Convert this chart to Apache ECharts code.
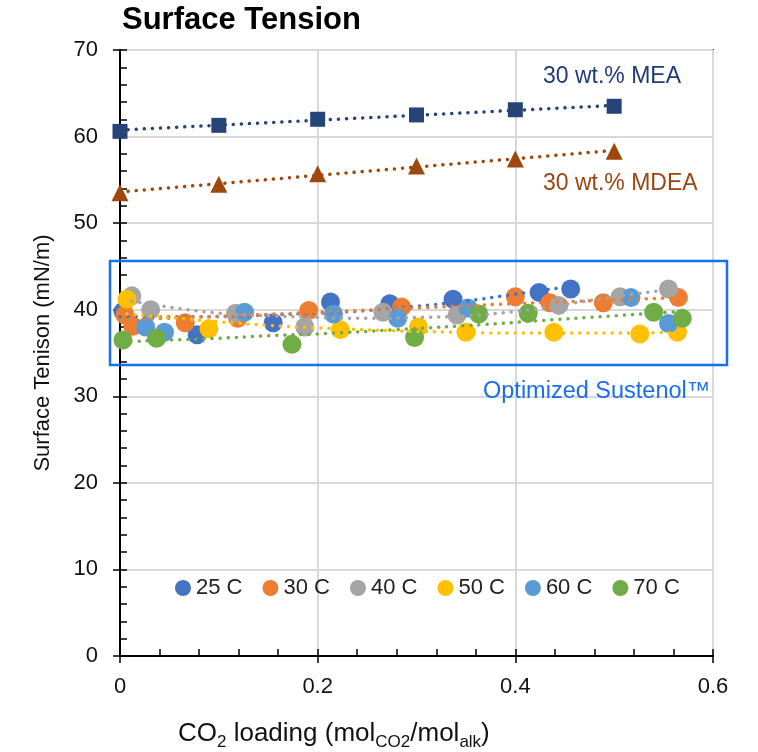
<!DOCTYPE html>
<html>
<head>
<meta charset="utf-8">
<script src="https://cdn.jsdelivr.net/npm/echarts@6/dist/echarts.min.js"></script>
<style>
    html, body { margin: 0; padding: 0; background: #fff; }
    #chart { width: 758px; height: 752px; }
</style>
</head>
<body>
<div id="chart"></div>
<script>
// 温度系列 (x = CO2 loading, y = surface tension)
var t25x = [0.003, 0.078, 0.155, 0.213, 0.273, 0.337, 0.424, 0.456];
var t25y = [39.8, 37.1, 38.5, 40.9, 40.7, 41.2, 42.0, 42.4];
var t30x = [0.005, 0.013, 0.066, 0.119, 0.191, 0.285, 0.400, 0.435, 0.489, 0.565];
var t30y = [39.4, 38.1, 38.5, 39.0, 39.9, 40.3, 41.5, 40.8, 40.8, 41.4];
var t40x = [0.012, 0.031, 0.117, 0.187, 0.266, 0.341, 0.444, 0.506, 0.555];
var t40y = [41.6, 40.0, 39.6, 38.0, 39.7, 39.4, 40.5, 41.5, 42.4];
var t50x = [0.007, 0.090, 0.223, 0.302, 0.350, 0.439, 0.526, 0.564];
var t50y = [41.2, 37.8, 37.7, 38.0, 37.4, 37.4, 37.2, 37.4];
var t60x = [0.026, 0.045, 0.126, 0.216, 0.281, 0.352, 0.517, 0.555];
var t60y = [38.0, 37.4, 39.7, 39.5, 39.0, 40.2, 41.4, 38.4];
var t70x = [0.003, 0.037, 0.174, 0.298, 0.363, 0.413, 0.540, 0.569];
var t70y = [36.5, 36.7, 36.0, 36.8, 39.5, 39.6, 39.7, 39.0];

// 趋势线
var tr25x = [0, 0.1, 0.15, 0.2, 0.25, 0.3, 0.35, 0.4, 0.456];
var tr25y = [39.2, 39.2, 39.4, 39.6, 39.9, 40.4, 41.0, 41.8, 42.7];
var tr30x = [0, 0.2, 0.4, 0.565];
var tr30y = [38.8, 39.7, 40.7, 41.4];
var tr40x = [0.012, 0.05, 0.1, 0.15, 0.2, 0.25, 0.3, 0.35, 0.4, 0.45, 0.5, 0.555];
var tr40y = [41.0, 40.3, 39.6, 39.3, 39.1, 39.0, 39.1, 39.3, 39.8, 40.6, 41.5, 42.3];
var tr50x = [0.007, 0.05, 0.1, 0.15, 0.2, 0.3, 0.4, 0.5, 0.564];
var tr50y = [39.5, 39.1, 38.6, 38.2, 37.9, 37.5, 37.3, 37.3, 37.4];
var tr70x = [0.003, 0.05, 0.1, 0.15, 0.2, 0.28, 0.37, 0.42, 0.5, 0.569];
var tr70y = [36.3, 36.5, 36.7, 37.0, 37.2, 37.7, 38.3, 38.7, 39.3, 39.8];

// MEA / MDEA
var meaX = [0, 0.1, 0.2, 0.3, 0.4, 0.5];
var meaY = [60.6, 61.3, 62.0, 62.5, 63.1, 63.5];
var meaTrendX = [0, 0.5];
var meaTrendY = [60.75, 63.6];
var mdeaX = [0, 0.1, 0.2, 0.3, 0.4, 0.5];
var mdeaY = [53.5, 54.5, 55.7, 56.6, 57.4, 58.3];
var mdeaTrendX = [0, 0.5];
var mdeaTrendY = [53.6, 58.4];

var names = ['25 C', '30 C', '40 C', '50 C', '60 C', '70 C'];
var mycolor = ['#4472C4', '#ED7D31', '#A5A5A5', '#FFC000', '#5B9BD5', '#70AD47'];

var font = 'Liberation Sans, Arial, sans-serif';

function pairs(xs, ys) {
    return xs.map(function (x, i) { return [x, ys[i]]; });
}

function dots(color) {
    return { color: color, width: 3.5, type: [0.1, 8], cap: 'round' };
}

function trend(xs, ys, color, smooth) {
    return {
        type: 'line',
        data: pairs(xs, ys),
        symbol: 'none',
        smooth: smooth,
        silent: true,
        z: 4,
        lineStyle: dots(color)
    };
}

(function () {
    var mychart = echarts.init(document.getElementById('chart'));

    var pts = [[t25x, t25y], [t30x, t30y], [t40x, t40y], [t50x, t50y], [t60x, t60y], [t70x, t70y]];
    var series = [];

    series.push(trend(meaTrendX, meaTrendY, '#264478', false));
    series.push(trend(mdeaTrendX, mdeaTrendY, '#9E480E', false));
    series.push({
        type: 'scatter', data: pairs(meaX, meaY), symbol: 'rect', symbolSize: 15,
        itemStyle: { color: '#264478', opacity: 1 }, z: 5
    });
    series.push({
        type: 'scatter', data: pairs(mdeaX, mdeaY), symbol: 'triangle', symbolSize: 17,
        itemStyle: { color: '#9E480E', opacity: 1 }, z: 5
    });

    pts.forEach(function (p, i) {
        series.push({
            name: names[i],
            type: 'scatter',
            data: pairs(p[0], p[1]),
            symbolSize: 19,
            itemStyle: { color: mycolor[i], opacity: 1 },
            z: 3
        });
    });

    series.push(trend(tr25x, tr25y, mycolor[0], 0.4));
    series.push(trend(tr30x, tr30y, mycolor[1], 0.3));
    series.push(trend(tr40x, tr40y, mycolor[2], 0.4));
    series.push(trend(tr50x, tr50y, mycolor[3], 0.4));
    series.push(trend(tr70x, tr70y, mycolor[5], 0.4));

    var tickStyle = { color: '#000', width: 1.5 };

    var option = {
        animation: false,
        textStyle: { fontFamily: font },
        title: {
            text: 'Surface Tension',
            left: 122,
            top: 5,
            padding: 0,
            textStyle: { fontSize: 31, fontWeight: 'bold', color: '#000', fontFamily: font }
        },
        legend: {
            data: names,
            left: 170,
            top: 572,
            icon: 'circle',
            itemWidth: 16,
            itemHeight: 16,
            itemGap: 20,
            selectedMode: false,
            textStyle: { fontSize: 22, color: '#222', fontFamily: font }
        },
        grid: {
            left: 120,
            right: 45,
            top: 50,
            bottom: 96,
            show: true,
            borderColor: '#000',
            borderWidth: 2
        },
        xAxis: [{
            // 主刻度 (outside) + labels
            type: 'value',
            min: 0,
            max: 0.6,
            interval: 0.2,
            axisLine: { show: true, lineStyle: { color: '#000', width: 2 } },
            axisTick: { show: true, inside: false, length: 7, lineStyle: tickStyle },
            splitLine: { show: true, lineStyle: { color: '#D9D9D9', width: 2 } },
            axisLabel: {
                fontSize: 22, color: '#111', margin: 20,
                formatter: function (v) { return v === 0 ? '0' : v.toFixed(1); }
            }
        }, {
            // 内侧小刻度
            type: 'value',
            position: 'bottom',
            min: 0,
            max: 0.6,
            interval: 0.04,
            axisLine: { show: false },
            axisTick: { show: true, inside: true, length: 7, lineStyle: tickStyle },
            axisLabel: { show: false },
            splitLine: { show: false }
        }],
        yAxis: [{
            type: 'value',
            min: 0,
            max: 70,
            interval: 10,
            name: 'Surface Tenison (mN/m)',
            nameLocation: 'middle',
            nameGap: 66,
            nameTextStyle: { fontSize: 22, color: '#111', fontFamily: font },
            axisLine: { show: true, lineStyle: { color: '#000', width: 2 } },
            axisTick: { show: true, inside: false, length: 7, lineStyle: tickStyle },
            splitLine: { show: true, lineStyle: { color: '#D9D9D9', width: 2 } },
            axisLabel: { fontSize: 22, color: '#111', margin: 22 }
        }, {
            type: 'value',
            position: 'left',
            min: 0,
            max: 70,
            interval: 2,
            axisLine: { show: false },
            axisTick: { show: true, inside: true, length: 7, lineStyle: tickStyle },
            axisLabel: { show: false },
            splitLine: { show: false }
        }],
        graphic: [{
            type: 'rect',
            shape: { x: 110, y: 261, width: 617, height: 104 },
            style: { fill: 'none', stroke: '#1A6FEB', lineWidth: 2.5 },
            z: 100
        }, {
            type: 'text',
            left: 543,
            top: 65,
            z: 100,
            style: { text: '30 wt.% MEA', fontSize: 23, fontFamily: font, fill: '#1F3A78' }
        }, {
            type: 'text',
            left: 543,
            top: 172,
            z: 100,
            style: { text: '30 wt.% MDEA', fontSize: 23, fontFamily: font, fill: '#9C4512' }
        }, {
            type: 'text',
            left: 483,
            top: 380,
            z: 100,
            style: { text: 'Optimized Sustenol™', fontSize: 23.5, fontFamily: font, fill: '#1A6FEB' }
        }, {
            type: 'text',
            left: 178,
            top: 721,
            z: 100,
            style: {
                text: '{m|CO}{s|2}{m| loading (mol}{s|CO2}{m|/mol}{s|alk}{m|)}',
                rich: {
                    m: { fontSize: 26, fontFamily: font, fill: '#111', lineHeight: 33, verticalAlign: 'middle' },
                    s: { fontSize: 17, fontFamily: font, fill: '#111', lineHeight: 17, verticalAlign: 'bottom' }
                }
            }
        }],
        series: series
    };

    mychart.setOption(option);
    window.addEventListener('resize', function () {
        mychart.resize();
    });
})();
</script>
</body>
</html>
